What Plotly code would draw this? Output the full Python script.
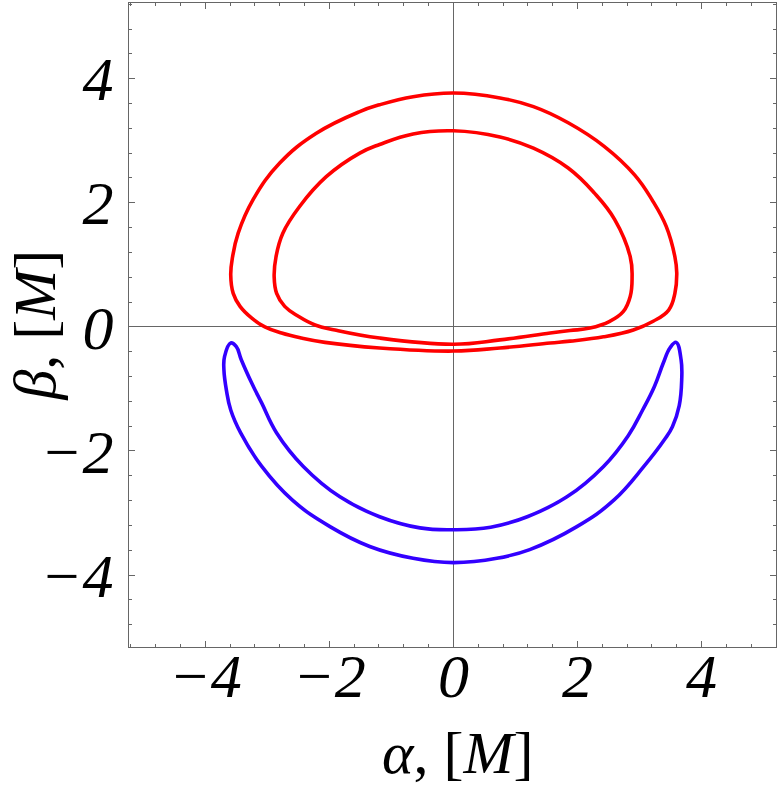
import plotly.graph_objects as go

# outer red loop (alpha, beta)
red_outer_x = [0.00, -0.65, -1.19, -1.51, -2.21, -2.80, -3.23, -3.47, -3.56, -3.59, -3.55, -3.44, -3.25,
               -3.04, -2.77, -2.45, -2.07, -1.19, 0.00, 0.75, 1.56, 1.88, 2.42, 2.90, 3.22, 3.47, 3.57,
               3.60, 3.57, 3.43, 3.20, 2.92, 2.43, 1.85, 1.29, 0.75, 0.00]
red_outer_y = [3.77, 3.71, 3.58, 3.47, 3.12, 2.64, 2.05, 1.51, 1.13, 0.84, 0.54, 0.33, 0.14,
               0.00, -0.10, -0.18, -0.25, -0.34, -0.39, -0.34, -0.26, -0.23, -0.16, -0.05, 0.09, 0.27, 0.54,
               0.87, 1.13, 1.62, 2.05, 2.45, 2.91, 3.29, 3.55, 3.69, 3.77]

# inner red loop
red_inner_x = [0.00, -0.65, -1.19, -1.51, -2.05, -2.48, -2.75, -2.86, -2.89, -2.85, -2.72, -2.50, -2.23,
               -1.91, -1.19, 0.00, 0.75, 1.56, 1.88, 2.20, 2.52, 2.74, 2.85, 2.88, 2.85, 2.60, 2.27,
               1.85, 1.29, 0.75, 0.00]
red_inner_y = [3.16, 3.11, 2.94, 2.80, 2.42, 1.94, 1.51, 1.13, 0.81, 0.54, 0.33, 0.17, 0.03,
               -0.05, -0.18, -0.28, -0.21, -0.10, -0.06, -0.02, 0.09, 0.25, 0.49, 0.79, 1.13, 1.73, 2.16,
               2.56, 2.88, 3.06, 3.16]

# blue crescent (outer edge then inner edge)
blue_x = [-3.59, -3.69, -3.70, -3.66, -3.59, -3.43, -3.09, -2.60, -1.99, -1.35, -0.65, 0.00,
          0.70, 1.23, 1.99, 2.59, 3.07, 3.40, 3.53, 3.64, 3.68, 3.67, 3.59,
          3.49, 3.38, 3.24, 3.05, 2.82, 2.42, 1.83, 1.19, 0.60, 0.00,
          -0.54, -1.19, -1.83, -2.42, -2.85, -3.09, -3.25, -3.42, -3.50, -3.59]
blue_y = [-0.26, -0.48, -0.69, -1.02, -1.34, -1.71, -2.25, -2.79, -3.22, -3.54, -3.73, -3.80,
          -3.73, -3.59, -3.22, -2.79, -2.25, -1.82, -1.61, -1.27, -0.85, -0.53, -0.25,
          -0.34, -0.59, -0.96, -1.34, -1.75, -2.25, -2.74, -3.06, -3.23, -3.27,
          -3.24, -3.06, -2.74, -2.25, -1.71, -1.23, -0.91, -0.53, -0.32, -0.26]

tick_vals = [-4, -2, 0, 2, 4]
axis_col = '#666666'
font_fam = 'Liberation Serif, Times New Roman, serif'

fig = go.Figure()

for xs, ys, col in [(red_outer_x, red_outer_y, '#ff0000'),
                    (red_inner_x, red_inner_y, '#ff0000'),
                    (blue_x, blue_y, '#3300ff')]:
    fig.add_trace(go.Scatter(x=xs, y=ys, mode='lines', hoverinfo='skip',
                             line=dict(color=col, width=3.6, shape='spline', smoothing=1.2)))

axis_style = dict(
    automargin=False,
    showgrid=False,
    zeroline=True, zerolinecolor=axis_col, zerolinewidth=1,
    showline=True, linecolor=axis_col, linewidth=1.3, mirror='ticks',
    ticks='inside', ticklen=6, tickcolor=axis_col, tickwidth=1,
    tickvals=tick_vals,
    tickfont=dict(family=font_fam, size=62, color='black', style='italic'),
    minor=dict(dtick=0.4, tick0=0, ticks='inside', ticklen=3, tickcolor=axis_col),
)

fig.update_layout(
    width=777, height=788,
    margin=dict(l=129, r=1, t=3, b=141),
    plot_bgcolor='white', paper_bgcolor='white',
    showlegend=False,
    xaxis=dict(range=[-5.23, 5.2], ticklabelstandoff=-26, **axis_style),
    yaxis=dict(range=[-5.16, 5.22], ticklabelstandoff=2, **axis_style),
)

# axis labels
fig.add_annotation(text='<i>α</i>, [<i>M</i>]', xref='paper', yref='paper',
                   x=0.507, y=-0.165, xanchor='center', yanchor='middle', showarrow=False,
                   font=dict(family=font_fam, size=60, color='black'))
fig.add_annotation(text='<i>β</i>, [<i>M</i>]', xref='paper', yref='paper', textangle=-90,
                   x=-0.146, y=0.50, xanchor='center', yanchor='middle', showarrow=False,
                   font=dict(family=font_fam, size=60, color='black'))

fig.write_html("out.html", config={'displayModeBar': False},
               post_script="document.body.style.margin='0';")
